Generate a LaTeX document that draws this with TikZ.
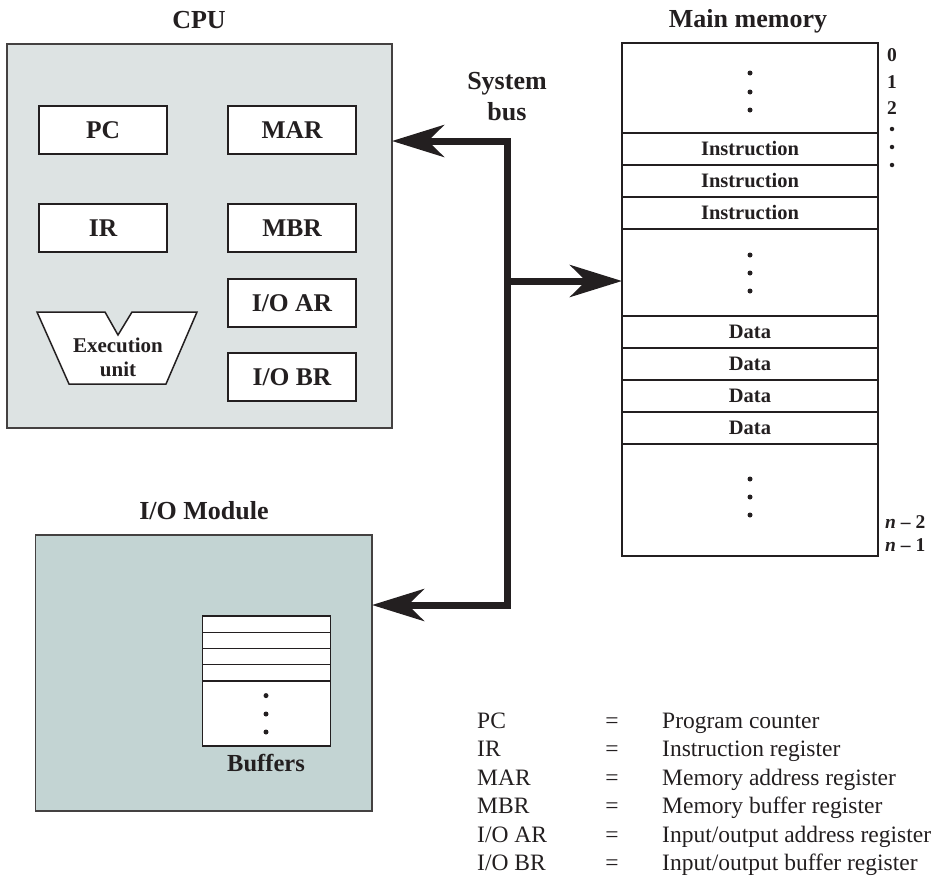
\documentclass[tikz,border=0pt]{standalone}
\usepackage{fontspec}
\setmainfont{Liberation Serif}
\usetikzlibrary{arrows.meta}
\definecolor{cpufill}{RGB}{221,227,227}
\definecolor{iofill}{RGB}{195,212,211}
\definecolor{ink}{RGB}{35,31,32}
\tikzset{
  outerbox/.style={draw=ink!85, line width=1.8pt, inner sep=0pt, outer sep=0pt},
  reg/.style={draw=ink, line width=1.5pt, fill=white, minimum width=128pt, minimum height=48pt, inner sep=0pt, outer sep=0pt, font=\fontsize{25.5}{30}\selectfont\bfseries, text=ink},
  cell/.style={draw=ink, line width=1.2pt, fill=white, minimum width=256pt, minimum height=32pt, inner sep=0pt, outer sep=0pt, font=\fontsize{20.5}{24}\selectfont\bfseries, text=ink},
  bufcell/.style={draw=ink, line width=1.2pt, fill=white, minimum width=128pt, minimum height=16.25pt, inner sep=0pt, outer sep=0pt},
  title/.style={font=\fontsize{26}{30}\selectfont\bfseries, text=ink, inner sep=0pt},
  addr/.style={font=\fontsize{19.5}{24}\selectfont\bfseries, text=ink, inner sep=0pt},
  bus/.style={line width=7pt, draw=ink, line join=miter, -{Stealth[length=52pt,width=32pt,inset=16pt]}},
  dot/.style={circle, fill=ink, minimum size=5pt, inner sep=0pt},
  legend/.style={font=\fontsize{23.5}{28}\selectfont, text=ink, inner sep=0pt, anchor=base west},
  legeq/.style={font=\fontsize{23.5}{28}\selectfont, text=ink, inner sep=0pt, anchor=base},
}
\begin{document}
\begin{tikzpicture}[x=1pt,y=-1pt]
\useasboundingbox (0,0) rectangle (939,876);

% ---------- CPU ----------
\node[title] (cputitle) at (199,20) {CPU};
\node[outerbox, fill=cpufill, minimum width=385pt, minimum height=384pt] (cpu) at (199.5,236) {};
\node[reg] (pc)  at (103,130) {PC};
\node[reg] (mar) at (292,130) {MAR};
\node[reg] (ir)  at (103,228) {IR};
\node[reg] (mbr) at (292,228) {MBR};
\node[reg] (ioar) at (292,303) {I/O AR};
\node[reg] (iobr) at (292,377) {I/O BR};
\draw[draw=ink, line width=1.5pt, fill=white, line join=miter]
  (37,312) -- (105,312) -- (118,335) -- (132,312) -- (197,312) -- (166,384) -- (69,384) -- cycle;
\node[font=\fontsize{21}{25}\selectfont\bfseries, text=ink, align=center, inner sep=0pt] (eu) at (118,357) {Execution\\[-1pt]unit};

% ---------- Main memory ----------
\node[title] (memtitle) at (748,21) {Main memory};
\node[draw=ink, line width=1.2pt, fill=white, minimum width=256pt, minimum height=513pt, inner sep=0pt, outer sep=0pt] (mem) at (750,299.5) {};
\node[cell] (i1) at (750,149) {Instruction};
\node[cell] (i2) at (750,181) {Instruction};
\node[cell] (i3) at (750,213) {Instruction};
\node[cell] (d1) at (750,332) {Data};
\node[cell] (d2) at (750,364) {Data};
\node[cell] (d3) at (750,396) {Data};
\node[cell] (d4) at (750,428) {Data};
\foreach \yy [count=\k] in {73,92,110,255,273,291,479,497,515}
  \node[dot] (md\k) at (750,\yy) {};
\node[addr] (a0) at (892,55) {0};
\node[addr] (a1) at (892,82) {1};
\node[addr] (a2) at (892,108) {2};
\foreach \yy [count=\k] in {129,147,165}
  \node[dot, minimum size=4.5pt] (ad\k) at (892,\yy) {};
\node[addr, anchor=west] (an2) at (885,522) {\textit{n} – 2};
\node[addr, anchor=west] (an1) at (885,545) {\textit{n} – 1};

% ---------- I/O module ----------
\node[title] (iotitle) at (204,511) {I/O Module};
\node[outerbox, fill=iofill, minimum width=336.5pt, minimum height=276pt] (io) at (203.75,673) {};
\node[draw=ink, line width=1.2pt, fill=white, minimum width=128pt, minimum height=130pt, inner sep=0pt, outer sep=0pt] (buf) at (266.5,681) {};
\node[bufcell] (b1) at (266.5,624.1) {};
\node[bufcell] (b2) at (266.5,640.4) {};
\node[bufcell] (b3) at (266.5,656.6) {};
\node[bufcell] (b4) at (266.5,672.9) {};
\foreach \yy [count=\k] in {695.6,714,732}
  \node[dot] (bd\k) at (266,\yy) {};
\node[font=\fontsize{24.5}{28}\selectfont\bfseries, text=ink, inner sep=0pt] (buflabel) at (266,763) {Buffers};

% ---------- System bus ----------
\node[title, align=center] (bustitle) at (507,97) {System\\[1pt]bus};
\coordinate (busmid) at (507,281);
\coordinate (ytop) at (0,141);
\coordinate (ybot) at (0,605);
\draw[bus] (busmid) |- (cpu.east |- ytop);
\draw[bus] (busmid) |- (io.east |- ybot);
\draw[bus] (busmid) -- (mem.west |- busmid);

% ---------- Legend ----------
\node[legend] (lab1) at (477,728.3) {PC};
\node[legend] (lab2) at (477,756.8) {IR};
\node[legend] (lab3) at (477,785.3) {MAR};
\node[legend] (lab4) at (477,813.8) {MBR};
\node[legend] (lab5) at (477,842.3) {I/O AR};
\node[legend] (lab6) at (477,870.8) {I/O BR};
\foreach \yy [count=\k] in {728.3,756.8,785.3,813.8,842.3,870.8}
  \node[legeq] (leq\k) at (612,\yy) {=};
\node[legend] (ld1) at (662,728.3) {Program counter};
\node[legend] (ld2) at (662,756.8) {Instruction register};
\node[legend] (ld3) at (662,785.3) {Memory address register};
\node[legend] (ld4) at (662,813.8) {Memory buffer register};
\node[legend] (ld5) at (662,842.3) {Input/output address register};
\node[legend] (ld6) at (662,870.8) {Input/output buffer register};
\end{tikzpicture}
\end{document}
